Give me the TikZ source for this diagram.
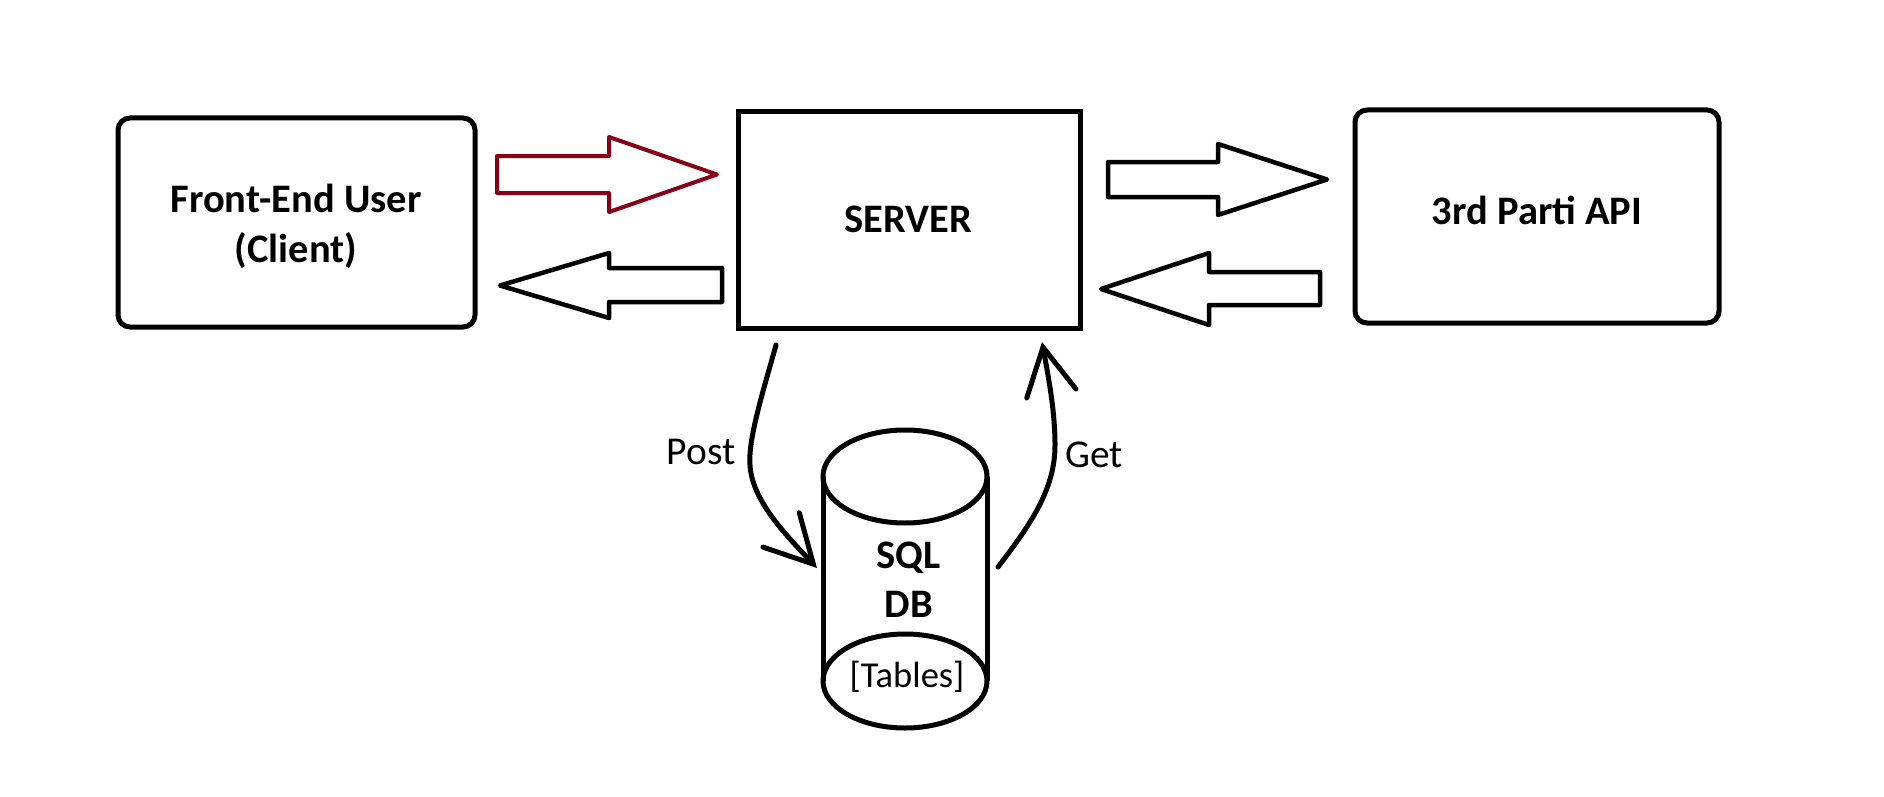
\documentclass[tikz,border=0pt]{standalone}
\usepackage{fontspec}
\setmainfont{Carlito}
\usetikzlibrary{arrows.meta}
\definecolor{darkred}{RGB}{136,0,21}
\begin{document}
\begin{tikzpicture}[x=1pt,y=1pt,
  box/.style={draw=black, line width=5pt},
  rbox/.style={box, rounded corners=12pt, inner sep=0pt},
  sbox/.style={box, inner sep=0pt},
  blockarr/.style={draw=black, line width=4.5pt, line join=round},
  redarr/.style={draw=darkred, line width=4pt, line join=round},
  lbl/.style={font=\bfseries\fontsize{40.5}{48}\selectfont, inner sep=0pt, anchor=base},
  tag/.style={font=\fontsize{39.5}{47}\selectfont, inner sep=0pt, anchor=base},
  flow/.style={line width=5pt, line cap=round,
    -{Straight Barb[length=47pt,width=50pt,line cap=round]}}]
\useasboundingbox (0,0) rectangle (1884,-797);
\fill[white] (0,0) rectangle (1884,-797);

% boxes
\node[rbox, minimum width=357pt, minimum height=209pt] (client) at (296.5,-222.5) {};
\node[sbox, minimum width=342pt, minimum height=216pt] (server) at (909,-220) {};
\node[rbox, minimum width=364pt, minimum height=213pt] (api) at (1537,-216.5) {};

% texts
\node[lbl] (clientA) at (296,-212) {Front-End User};
\node[lbl] (clientB) at (296,-262) {(Client)};
\node[lbl] (serverT) at (908,-232.5) {SERVER};
\node[lbl] (apiT) at (1537,-224) {3rd Parti API};

% block arrows
\draw[redarr] (497,-156) -- (609,-156) -- (609,-137) -- (717,-174.5)
  -- (609,-212) -- (609,-193) -- (497,-193) -- cycle;
\draw[blockarr] (722,-268) -- (609,-268) -- (609,-253) -- (500,-285.5)
  -- (609,-318) -- (609,-302) -- (722,-302) -- cycle;
\draw[blockarr] (1108,-162) -- (1218,-162) -- (1218,-144) -- (1327,-179.5)
  -- (1218,-215) -- (1218,-197) -- (1108,-197) -- cycle;
\draw[blockarr] (1320,-272) -- (1209,-272) -- (1209,-253) -- (1101,-289)
  -- (1209,-325) -- (1209,-305) -- (1320,-305) -- cycle;

% database cylinder
\draw[box] (823,-476.5) -- (823,-681);
\draw[box] (987,-476.5) -- (987,-681);
\draw[box] (905,-476.5) ellipse [x radius=82, y radius=46.5];
\draw[box] (905,-681) ellipse [x radius=82, y radius=47];
\node[lbl] (sqlT) at (908.5,-568) {SQL};
\node[lbl] (dbT) at (909,-617) {DB};
\node[tag, font=\fontsize{36.5}{44}\selectfont] (tablesT) at (907,-687) {[Tables]};

% connectors
\coordinate (postS) at (776,-345);
\coordinate (postE) at (817,-568);
\coordinate (getS) at (998,-567);
\coordinate (getE) at (1042,-342);
\draw[flow] (postS) .. controls (762,-395) and (748,-440) .. (750,-465)
  .. controls (752,-500) and (784,-533) .. (postE);
\draw[flow] (getS) .. controls (1030,-525) and (1055,-490) .. (1055,-445)
  .. controls (1055,-410) and (1048,-375) .. (getE);
\node[tag] (postT) at (701,-464) {Post};
\node[tag] (getT) at (1094,-467) {Get};
\end{tikzpicture}
\end{document}
